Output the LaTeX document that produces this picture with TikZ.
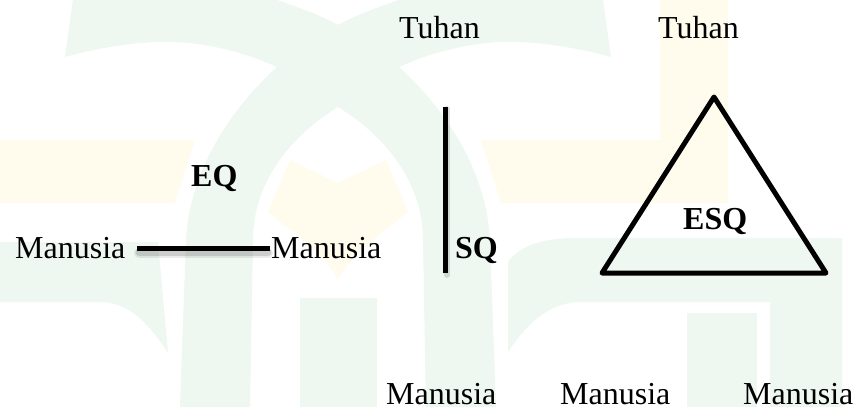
\documentclass[tikz,border=0pt]{standalone}
\usepackage{fontspec}
\setmainfont{Liberation Serif}
\definecolor{wmgreen}{RGB}{239,247,241}
\definecolor{wmyellow}{RGB}{255,252,238}
\tikzset{
  lbl/.style={inner sep=0pt, anchor=base west, font=\fontsize{32}{38}\selectfont},
  blbl/.style={inner sep=0pt, anchor=base west, font=\fontsize{32}{38}\selectfont\bfseries},
  barline/.style={line width=5pt, line cap=butt},
  shadowline/.style={line width=7pt, black, opacity=0.12, line cap=round},
}
\begin{document}
\begin{tikzpicture}[x=1pt,y=-1pt]
\useasboundingbox (0,0) rectangle (856,407);
\fill[white] (0,0) rectangle (856,407);
% ---- watermark ----
\fill[wmyellow] (0,140) -- (195,140) -- (175,203) -- (0,203) -- cycle;
\fill[wmyellow] (481,140) -- (660,140) -- (660,0) -- (728,0) -- (728,203) -- (501,203) -- cycle;
\fill[wmyellow] (290,160) -- (338,183) -- (386,160) -- (408,212)
  .. controls (380,235) and (350,255) .. (338,280)
  .. controls (326,255) and (296,235) .. (268,212) -- cycle;
\fill[wmgreen] (180,407) -- (186,240) .. controls (190,170) and (230,110) .. (277,67)
  .. controls (240,50) and (195,40) .. (155,42) .. controls (120,44) and (90,50) .. (65,57)
  -- (73,0) -- (277,0) .. controls (300,8) and (320,15) .. (338,25)
  .. controls (356,15) and (376,8) .. (399,0) -- (603,0) -- (611,57)
  .. controls (586,50) and (556,44) .. (521,42) .. controls (481,40) and (436,50) .. (399,67)
  .. controls (446,110) and (486,170) .. (490,240) -- (496,407) -- (426,407) -- (423,240)
  .. controls (423,175) and (376,130) .. (338,107)
  .. controls (300,130) and (253,175) .. (253,240) -- (250,407) -- cycle;
\fill[wmgreen] (0,242) -- (158,242) -- (168,353) .. controls (150,325) and (130,302) .. (100,302) -- (0,302) -- cycle;
\fill[wmgreen] (508,352) -- (508,262) .. controls (520,245) and (545,238) .. (575,238)
  -- (842,238) -- (842,407) -- (770,407) -- (770,302) -- (576,302)
  .. controls (546,305) and (526,325) .. (508,352) -- cycle;
\fill[wmgreen] (687,313) rectangle (757,407);
\fill[wmgreen] (300,298) rectangle (377,407);
% ---- labels ----
\node[lbl] (tuhan1) at (399,38) {Tuhan};
\node[lbl] (tuhan2) at (658,38) {Tuhan};
\node[blbl] (eq) at (191,186) {EQ};
\node[lbl] (man1) at (15,258) {Manusia};
\node[lbl] (man2) at (271,258) {Manusia};
\node[blbl] (sq) at (455,258) {SQ};
\node[blbl] (esq) at (683,229) {ESQ};
\node[lbl] (man3) at (386,404) {Manusia};
\node[lbl] (man4) at (560,404) {Manusia};
\node[lbl] (man5) at (743,404) {Manusia};
% ---- connectors ----
\coordinate (eqa) at (137,248);
\coordinate (eqb) at (270,248);
\coordinate (sqa) at (445,107);
\coordinate (sqb) at (445,273);
\coordinate (tt) at (714,97);
\coordinate (tl) at (602,273);
\coordinate (tr) at (826,273);
\draw[shadowline] ([shift={(2,4)}]eqa) -- ([shift={(-2,4)}]eqb);
\draw[shadowline, opacity=0.08, line width=10pt] ([shift={(2,5)}]eqa) -- ([shift={(-2,5)}]eqb);
\draw[shadowline, line width=6pt] ([shift={(2,2)}]sqa) -- ([shift={(2,2)}]sqb);
\draw[barline] (eqa) -- (eqb);
\draw[barline] (sqa) -- (sqb);
\draw[line width=5pt, line join=round] (tt) -- (tl) -- (tr) -- cycle;
\end{tikzpicture}
\end{document}
